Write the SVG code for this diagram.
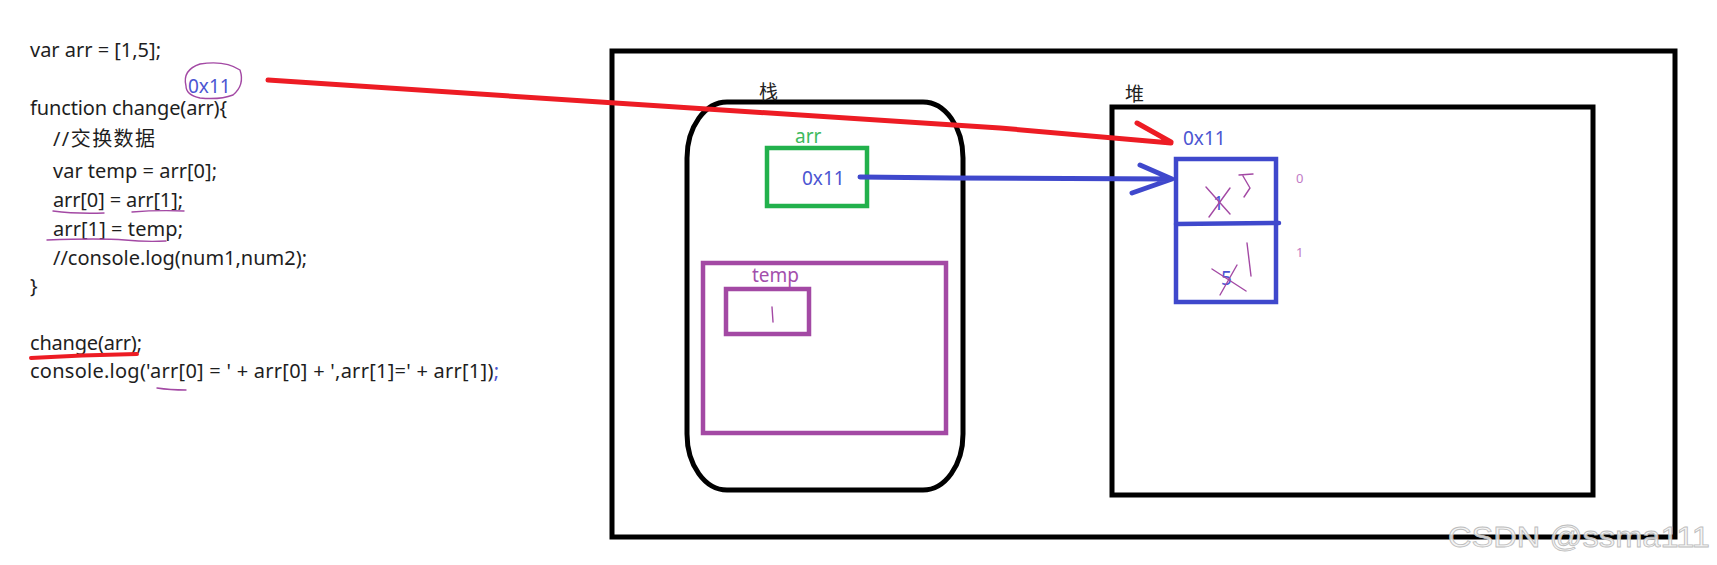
<svg xmlns="http://www.w3.org/2000/svg" width="1717" height="565" viewBox="0 0 1717 565">
<style>
.code{font-family:"Noto Sans","Noto Sans CJK SC",sans-serif;font-size:20px;fill:#1e1e1e}
.lbl{font-family:"Noto Sans","Noto Sans CJK SC",sans-serif;font-size:19px}
.blk{fill:none;stroke:#000;stroke-width:5}
.pur{fill:none;stroke:#a349a4;stroke-width:4.5}
.scr{fill:none;stroke:#a349a4;stroke-width:1.4;stroke-linecap:round;stroke-linejoin:round}
.blue{fill:#4b55d2}
</style>
<rect width="1717" height="565" fill="#fff"/>
<g id="code">
<text class="code" x="30" y="57" textLength="131" lengthAdjust="spacing">var arr = [1,5];</text>
<text class="code" x="30" y="115" textLength="197" lengthAdjust="spacing">function change(arr){</text>
<text class="code" x="53" y="146" textLength="102" lengthAdjust="spacing">//交换数据</text>
<text class="code" x="53" y="178" textLength="164" lengthAdjust="spacing">var temp = arr[0];</text>
<text class="code" x="53" y="207" textLength="130" lengthAdjust="spacing">arr[0] = arr[1];</text>
<text class="code" x="53" y="236" textLength="130" lengthAdjust="spacing">arr[1] = temp;</text>
<text class="code" x="53" y="265" textLength="254" lengthAdjust="spacing">//console.log(num1,num2);</text>
<text class="code" x="30" y="293">}</text>
<text class="code" x="30" y="350" textLength="112" lengthAdjust="spacing">change(arr);</text>
<text class="code" x="30" y="378" textLength="469" lengthAdjust="spacing">console.log('arr[0] = ' + arr[0] + ',arr[1]=' + arr[1])<tspan fill="#4b55d2">;</tspan></text>
<path class="scr" d="M53 211 Q75 214 104 213 M132 212 Q157 210 184 211 M47 240 Q100 238 125 240 Q145 242 166 241 M157 388 Q170 390 186 390"/>
<path d="M31 358 Q80 355 137 354" fill="none" stroke="#ed1c24" stroke-width="4" stroke-linecap="round"/>
</g>
<g id="annotation">
<text class="lbl blue" x="188" y="93">0x11</text>
<path class="scr" d="M186 86 Q182 70 200 64 Q225 60 240 70 Q245 85 233 95 Q220 100 200 98 Q186 95 186 86"/>
</g>
<g id="memory">
<rect class="blk" x="612" y="51" width="1063" height="486"/>
</g>
<g id="stack">
<rect class="blk" x="687" y="102" width="276" height="388" rx="40" ry="56"/>
<text class="lbl" x="759" y="99" fill="#222" font-size="20">栈</text>
</g>
<g id="arr-var">
<rect x="767" y="148" width="100" height="58" fill="none" stroke="#22b14c" stroke-width="4.5"/>
<text class="lbl" x="795" y="143" fill="#3dba5e" font-size="18">arr</text>
<text class="lbl blue" x="802" y="185">0x11</text>
</g>
<g id="temp-var">
<rect class="pur" x="703" y="263" width="243" height="170"/>
<text class="lbl" x="752" y="282" fill="#a34fac">temp</text>
<rect class="pur" x="726" y="289" width="83" height="45"/>
<path class="scr" d="M772 307 L773 322"/>
</g>
<g id="heap">
<rect class="blk" x="1112" y="107" width="481" height="388"/>
<text class="lbl" x="1125" y="101" fill="#222" font-size="20">堆</text>
<text class="lbl blue" x="1183" y="145">0x11</text>
</g>
<g id="array">
<rect x="1176" y="159" width="100" height="143" fill="none" stroke="#3f48cc" stroke-width="4.5"/>
<path d="M1176 224 L1279 223" stroke="#3f48cc" stroke-width="4.5" stroke-linecap="round"/>
<text class="lbl blue" x="1213" y="210">1</text>
<text class="lbl blue" x="1221" y="285">5</text>
<path class="scr" d="M1206 187 L1230 214 M1230 188 L1209 217 M1239 175 L1253 174 M1243 176 L1250 188 L1244 197 M1212 269 L1246 291 M1237 265 L1220 295 M1247 243 L1251 276"/>
<text x="1296" y="183" font-family="Noto Sans,sans-serif" font-size="13" fill="#c27bc6">0</text>
<text x="1296" y="257" font-family="Noto Sans,sans-serif" font-size="13" fill="#c27bc6">1</text>
</g>
<g id="connectors">
<path d="M268 80 L600 102 L1000 128 L1171 143 M1137 123 L1171 142" fill="none" stroke="#ed1c24" stroke-width="5" stroke-linecap="round" stroke-linejoin="round"/>
<path d="M860 177 L953 178 L1172 179 M1140 165 L1172 179 L1132 193" fill="none" stroke="#3f48cc" stroke-width="5" stroke-linecap="round" stroke-linejoin="round"/>
</g>
<text x="1448" y="547" font-family="Liberation Sans,Arial,sans-serif" font-size="29" textLength="262" lengthAdjust="spacingAndGlyphs" fill="#f2f2f2" fill-opacity="0.85" stroke="#bdbdbd" stroke-width="0.8">CSDN @ssma111</text>
</svg>
